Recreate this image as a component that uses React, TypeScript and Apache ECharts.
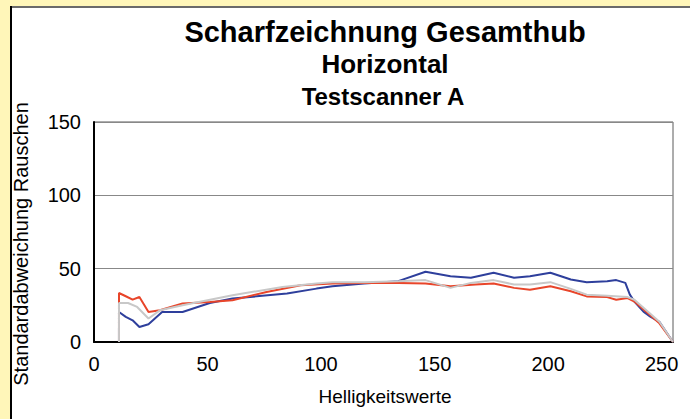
import React, { useEffect, useRef } from "react";
import * as echarts from "echarts";

const titleLines = ["Scharfzeichnung Gesamthub", "Horizontal", "Testscanner A"];
const xAxisName = "Helligkeitswerte";
const yAxisName = "Standardabweichung Rauschen";
const xTicks = { min: 0, max: 255, interval: 50 };
const yTicks = { min: 0, max: 150, interval: 50 };

const blueData: [number, number][] = [
  [11, 0], [11, 20.5], [14, 17.1], [17, 14.8], [20, 10.2], [24, 12.1], [30, 20.5], [39, 20.5],
  [51, 26.6], [61, 29.6], [85, 33], [98, 36.4], [105, 38], [119, 39.9], [134, 41.5], [146, 47.9],
  [157, 44.9], [166, 43.8], [176, 47.2], [185, 43.8], [192, 44.9], [201, 47.2], [210, 42.6],
  [217, 40.8], [226, 41.5], [230, 42.2], [234, 40.3], [236, 32.3], [238, 27.6], [242, 20.7],
  [245, 17.3], [249, 13.8], [255, 0],
];
const redData: [number, number][] = [
  [11, 0], [11, 33.4], [14, 31.2], [17, 28.9], [20, 30.7], [24, 20.5], [29, 21.6], [39, 26.2],
  [51, 27.3], [61, 28.5], [76, 34.1], [91, 38.7], [105, 39.9], [119, 40.3], [134, 40.3],
  [146, 39.9], [157, 38], [168, 39.2], [176, 39.9], [185, 36.9], [192, 35.7], [201, 38],
  [210, 34.6], [217, 31.1], [226, 30.6], [230, 28.8], [235, 30], [238, 27.6], [244, 19.6],
  [249, 12.7], [255, 0],
];
const greyData: [number, number][] = [
  [11, 0], [11, 26.6], [15, 26.6], [19, 23.9], [24, 16], [29, 21.6], [39, 25.1], [61, 31.9],
  [83, 37.5], [98, 39.9], [105, 40.8], [119, 40.8], [134, 41.5], [146, 42.2], [157, 36.9],
  [166, 40.3], [176, 42.2], [185, 39.2], [192, 39.2], [201, 40.8], [210, 36.2], [217, 32.3],
  [226, 31.6], [235, 30.6], [238, 28.8], [244, 20.7], [249, 13.8], [255, 0],
];

const FONT = "'Liberation Sans', Arial, sans-serif";

export default function App() {
  const ref = useRef<HTMLDivElement>(null);
  useEffect(() => {
    if (!ref.current) return;
    const chart = echarts.init(ref.current, null, { renderer: "svg" });
    chart.setOption({
      animation: false,
      backgroundColor: "#FFF6B9",
      textStyle: { fontFamily: FONT },
      grid: {
        left: 94, right: 17, top: 122, bottom: 77,
        show: true, backgroundColor: "#ffffff", borderColor: "#5a5a5a", borderWidth: 1,
      },
      xAxis: {
        type: "value", min: xTicks.min, max: xTicks.max, interval: xTicks.interval,
        axisLine: { show: true, lineStyle: { color: "#000", width: 2 } },
        axisTick: { show: false },
        splitLine: { show: false },
        axisLabel: { showMaxLabel: false, color: "#000", fontSize: 20, fontFamily: FONT, margin: 12 },
      },
      yAxis: {
        type: "value", min: yTicks.min, max: yTicks.max, interval: yTicks.interval,
        axisLine: { show: true, lineStyle: { color: "#000", width: 2 } },
        axisTick: { show: false },
        splitLine: { show: true, lineStyle: { color: "#888", width: 1 } },
        axisLabel: { color: "#000", fontSize: 20, fontFamily: FONT, margin: 13 },
      },
      graphic: [
        { type: "rect", z: -10, silent: true, shape: { x: 11, y: 7, width: 700, height: 420 }, style: { fill: "#ffffff" } },
        { type: "line", z: -9, silent: true, shape: { x1: 10, y1: 7, x2: 690, y2: 7 }, style: { stroke: "#6a6a6a", lineWidth: 2 } },
        { type: "line", z: -9, silent: true, shape: { x1: 11, y1: 6, x2: 11, y2: 419 }, style: { stroke: "#000", lineWidth: 2 } },
        { type: "text", x: 385, y: 32, style: { text: titleLines[0], font: `bold 29px ${FONT}`, fill: "#000", textAlign: "center", textVerticalAlign: "middle" } },
        { type: "text", x: 385, y: 64, style: { text: titleLines[1], font: `bold 26px ${FONT}`, fill: "#000", textAlign: "center", textVerticalAlign: "middle" } },
        { type: "text", x: 383, y: 96, style: { text: titleLines[2], font: `bold 24px ${FONT}`, fill: "#000", textAlign: "center", textVerticalAlign: "middle" } },
        { type: "text", x: 385, y: 396, style: { text: xAxisName, font: `19px ${FONT}`, fill: "#000", textAlign: "center", textVerticalAlign: "middle" } },
        { type: "text", x: 21, y: 244, rotation: Math.PI / 2, style: { text: yAxisName, font: `20px ${FONT}`, fill: "#000", textAlign: "center", textVerticalAlign: "middle" } },
      ],
      series: [
        { name: "Blau", type: "line", data: blueData, showSymbol: false, lineStyle: { color: "#2E3F9C", width: 2 }, itemStyle: { color: "#2E3F9C" } },
        { name: "Rot", type: "line", data: redData, showSymbol: false, lineStyle: { color: "#E8452A", width: 2 }, itemStyle: { color: "#E8452A" } },
        { name: "Grau", type: "line", data: greyData, showSymbol: false, lineStyle: { color: "#C8C8C8", width: 2 }, itemStyle: { color: "#C8C8C8" } },
      ],
    });
    return () => chart.dispose();
  }, []);
  return <div ref={ref} style={{ position: "fixed", left: 0, top: 0, width: 690, height: 419 }} />;
}
